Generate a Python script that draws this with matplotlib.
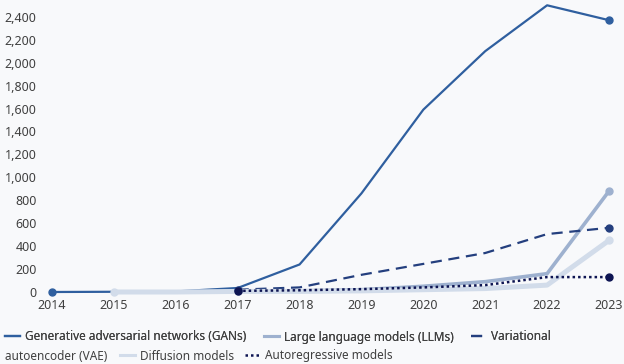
import matplotlib

matplotlib.use("Agg")
import matplotlib.pyplot as plt
from matplotlib.lines import Line2D
from matplotlib.ticker import FuncFormatter

plt.rcParams["font.family"] = ["Noto Sans", "DejaVu Sans"]

YEARS = [2014, 2015, 2016, 2017, 2018, 2019, 2020, 2021, 2022, 2023]

GANS = [0, 2, 5, 35, 240, 860, 1590, 2100, 2500, 2370]
LLMS = [None, None, None, 5, 10, 20, 50, 90, 160, 880]
VAE = [None, None, None, 20, 40, 150, 245, 340, 505, 560]
DIFFUSION = [None, 0, 0, 5, 5, 10, 20, 30, 60, 450]
AUTOREG = [None, None, None, 10, 15, 25, 40, 60, 130, 130]

BG = "#f8f9fb"
TEXT = "#404040"

SERIES = [
    ("Generative adversarial networks (GANs)", GANS, "#2f5f9f", "-", 1.6),
    ("Large language models (LLMs)", LLMS, "#9eb1cf", "-", 2.6),
    ("Variational autoencoder (VAE)", VAE, "#243f7e", (0, (5, 3)), 1.6),
    ("Diffusion models", DIFFUSION, "#d2dcea", "-", 3.6),
    ("Autoregressive models", AUTOREG, "#0d1452", (0, (1, 1.2)), 1.8),
]


def main() -> None:
    fig = plt.figure(figsize=(6.24, 3.64), dpi=100, facecolor=BG)
    ax = fig.add_axes([52 / 624, 72 / 364, 557 / 624, 289 / 364])
    ax.set_facecolor(BG)

    # draw light, thick lines first so the darker ones sit on top
    order = [3, 1, 4, 2, 0]
    for i in order:
        label, vals, color, ls, lw = SERIES[i]
        xs = [y for y, v in zip(YEARS, vals) if v is not None]
        ys = [v for v in vals if v is not None]
        ax.plot(xs, ys, color=color, linestyle=ls, linewidth=lw,
                solid_capstyle="round", clip_on=False, zorder=2 + i)
        ax.plot([xs[0], xs[-1]], [ys[0], ys[-1]], "o", color=color,
                markersize=5, clip_on=False, zorder=3 + i)

    ax.set_xlim(2014, 2023)
    ax.set_ylim(0, 2520)
    ax.set_xticks(YEARS)
    ax.set_yticks(range(0, 2401, 200))
    ax.yaxis.set_major_formatter(FuncFormatter(lambda v, _: f"{int(v):,}"))
    ax.tick_params(length=0, labelsize=9, colors=TEXT)
    ax.tick_params(axis="y", pad=11)
    ax.tick_params(axis="x", pad=5)
    for s in ax.spines.values():
        s.set_visible(False)

    def proxy(i):
        _, _, color, ls, lw = SERIES[i]
        return Line2D([], [], color=color, linestyle=ls, linewidth=min(lw, 2.2))

    leg_kw = dict(frameon=False, fontsize=8.5, handlelength=1.3, handletextpad=0.42,
                  labelcolor=TEXT, borderaxespad=0, borderpad=0, loc="center left")
    leg1 = fig.legend([proxy(0), proxy(1), proxy(2)],
                      ["Generative adversarial networks (GANs)",
                       "Large language models (LLMs)", "Variational"],
                      ncol=3, columnspacing=1.45,
                      bbox_to_anchor=(5 / 624, 1 - 337 / 364), **leg_kw)
    fig.add_artist(leg1)
    fig.text(5 / 624, 1 - 356 / 364, "autoencoder (VAE)", fontsize=8.5,
             color=TEXT, va="center", ha="left")
    fig.legend([proxy(3), proxy(4)], ["Diffusion models", "Autoregressive models"],
               ncol=2, columnspacing=0.9,
               bbox_to_anchor=(120 / 624, 1 - 356 / 364), **leg_kw)

    fig.savefig("out.png", dpi=100, facecolor=BG)
    plt.close(fig)


if __name__ == "__main__":
    main()
